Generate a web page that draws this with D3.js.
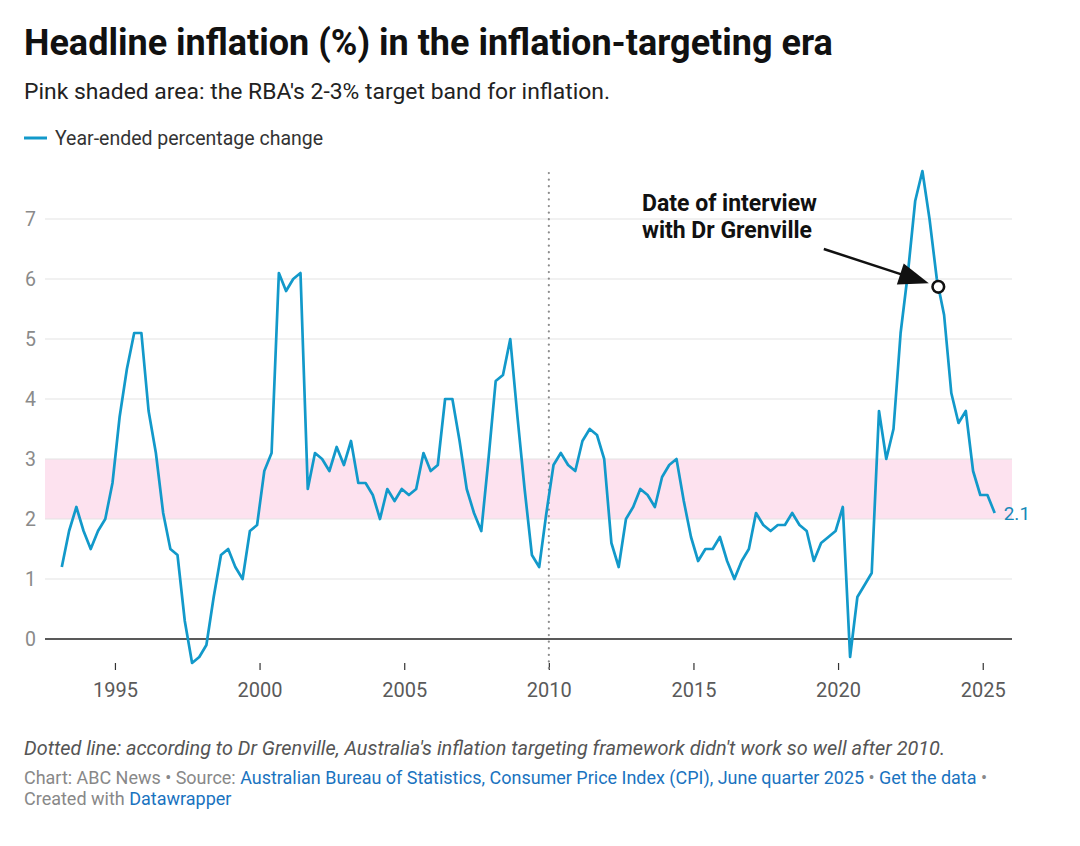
<!DOCTYPE html>
<html>
<head>
<meta charset="utf-8">
<script src="https://cdn.jsdelivr.net/npm/d3@7"></script>
<style>
  html, body { margin: 0; padding: 0; background: #fff; }
  svg { display: block; font-family: Roboto, "Noto Sans", sans-serif; }
</style>
</head>
<body>
<svg id="chart" width="1080" height="846"></svg>
<script>
// ---------- DATA ----------
const periods = [
  "1993-03","1993-06","1993-09","1993-12","1994-03","1994-06","1994-09","1994-12",
  "1995-03","1995-06","1995-09","1995-12","1996-03","1996-06","1996-09","1996-12",
  "1997-03","1997-06","1997-09","1997-12","1998-03","1998-06","1998-09","1998-12",
  "1999-03","1999-06","1999-09","1999-12","2000-03","2000-06","2000-09","2000-12",
  "2001-03","2001-06","2001-09","2001-12","2002-03","2002-06","2002-09","2002-12",
  "2003-03","2003-06","2003-09","2003-12","2004-03","2004-06","2004-09","2004-12",
  "2005-03","2005-06","2005-09","2005-12","2006-03","2006-06","2006-09","2006-12",
  "2007-03","2007-06","2007-09","2007-12","2008-03","2008-06","2008-09","2008-12",
  "2009-03","2009-06","2009-09","2009-12","2010-03","2010-06","2010-09","2010-12",
  "2011-03","2011-06","2011-09","2011-12","2012-03","2012-06","2012-09","2012-12",
  "2013-03","2013-06","2013-09","2013-12","2014-03","2014-06","2014-09","2014-12",
  "2015-03","2015-06","2015-09","2015-12","2016-03","2016-06","2016-09","2016-12",
  "2017-03","2017-06","2017-09","2017-12","2018-03","2018-06","2018-09","2018-12",
  "2019-03","2019-06","2019-09","2019-12","2020-03","2020-06","2020-09","2020-12",
  "2021-03","2021-06","2021-09","2021-12","2022-03","2022-06","2022-09","2022-12",
  "2023-03","2023-06","2023-09","2023-12","2024-03","2024-06","2024-09","2024-12",
  "2025-03","2025-06"
];
const inflation = [
  1.2, 1.8, 2.2, 1.8,   1.5, 1.8, 2.0, 2.6,
  3.7, 4.5, 5.1, 5.1,   3.8, 3.1, 2.1, 1.5,
  1.4, 0.3, -0.4, -0.3, -0.1, 0.7, 1.4, 1.5,
  1.2, 1.0, 1.8, 1.9,   2.8, 3.1, 6.1, 5.8,
  6.0, 6.1, 2.5, 3.1,   3.0, 2.8, 3.2, 2.9,
  3.3, 2.6, 2.6, 2.4,   2.0, 2.5, 2.3, 2.5,
  2.4, 2.5, 3.1, 2.8,   2.9, 4.0, 4.0, 3.3,
  2.5, 2.1, 1.8, 3.0,   4.3, 4.4, 5.0, 3.7,
  2.5, 1.4, 1.2, 2.1,   2.9, 3.1, 2.9, 2.8,
  3.3, 3.5, 3.4, 3.0,   1.6, 1.2, 2.0, 2.2,
  2.5, 2.4, 2.2, 2.7,   2.9, 3.0, 2.3, 1.7,
  1.3, 1.5, 1.5, 1.7,   1.3, 1.0, 1.3, 1.5,
  2.1, 1.9, 1.8, 1.9,   1.9, 2.1, 1.9, 1.8,
  1.3, 1.6, 1.7, 1.8,   2.2, -0.3, 0.7, 0.9,
  1.1, 3.8, 3.0, 3.5,   5.1, 6.1, 7.3, 7.8,
  7.0, 6.0, 5.4, 4.1,   3.6, 3.8, 2.8, 2.4,
  2.4, 2.1
];
const yTicks = [0, 1, 2, 3, 4, 5, 6, 7];
const xTickYears = [1995, 2000, 2005, 2010, 2015, 2020, 2025];
const targetBand = [2, 3];
const dividerDate = "2010-01-01";
const interviewDate = "2023-06-20";
const interviewValue = 5.87;
const annotationLines = ["Date of interview", "with Dr Grenville"];
const seriesName = "Year-ended percentage change";

// ---------- SETUP ----------
const svg = d3.select("#chart");
const W = 1080, H = 846;
svg.append("rect").attr("width", W).attr("height", H).attr("fill", "#fff");

const parseMonth = d3.timeParse("%Y-%m");
const data = periods.map((p, i) => ({ date: parseMonth(p), value: inflation[i] }));

const plotLeft = 45, plotRight = 1012;
const x = d3.scaleTime()
  .domain(d3.extent(data, d => d.date))
  .range([61.8, 994.7]);
const y = d3.scaleLinear()
  .domain([d3.min(inflation), d3.max(inflation)])
  .range([663, 171]);

const lineColor = "#1299ca";

// fit helper: nudge rendered width to the reference width
function fit(sel, target) {
  const w = sel.node().getComputedTextLength();
  if (Math.abs(w - target) > 2) {
    sel.attr("textLength", target).attr("lengthAdjust", "spacingAndGlyphs");
  }
  return sel;
}

// ---------- TITLE / SUBTITLE / LEGEND ----------
fit(svg.append("text")
  .attr("x", 24).attr("y", 55)
  .attr("font-size", 36).attr("font-weight", 700).attr("fill", "#111")
  .text("Headline inflation (%) in the inflation-targeting era"), 809);

fit(svg.append("text")
  .attr("x", 24).attr("y", 99)
  .attr("font-size", 22.5).attr("fill", "#222")
  .text("Pink shaded area: the RBA's 2-3% target band for inflation."), 586);

svg.append("line")
  .attr("x1", 24).attr("x2", 47).attr("y1", 138).attr("y2", 138)
  .attr("stroke", lineColor).attr("stroke-width", 3);
fit(svg.append("text")
  .attr("x", 55).attr("y", 144.5)
  .attr("font-size", 19.5).attr("fill", "#333")
  .text(seriesName), 270);

// ---------- PLOT ----------
const g = svg.append("g");

// target band
g.append("rect")
  .attr("x", plotLeft).attr("width", plotRight - plotLeft)
  .attr("y", y(targetBand[1])).attr("height", y(targetBand[0]) - y(targetBand[1]))
  .attr("fill", "#fde2ef");

// gridlines
g.selectAll("line.grid").data(yTicks.filter(d => d !== 0)).join("line")
  .attr("class", "grid")
  .attr("x1", plotLeft).attr("x2", plotRight)
  .attr("y1", d => y(d)).attr("y2", d => y(d))
  .attr("stroke", "#e3e3e3").attr("stroke-width", 1);

// y labels
const yAxis = d3.axisLeft(y).tickValues(yTicks).tickSize(0).tickPadding(0).tickFormat(d3.format("d"));
const yg = g.append("g").attr("transform", "translate(36,0)").call(yAxis);
yg.select(".domain").remove();
yg.selectAll("text").attr("font-size", 19.5).attr("fill", "#8a8a8a")
  .attr("font-family", "Roboto, sans-serif").attr("dy", "0.35em");

// x axis ticks and labels
const xAxis = d3.axisBottom(x)
  .tickValues(xTickYears.map(yr => new Date(yr, 0, 1)))
  .tickSize(7).tickPadding(13).tickFormat(d3.timeFormat("%Y"));
const xg = g.append("g").attr("transform", "translate(0,663)").call(xAxis);
xg.select(".domain").remove();
xg.selectAll(".tick line").attr("stroke", "#333").attr("stroke-width", 1.2);
xg.selectAll("text").attr("font-size", 20).attr("fill", "#5a5a5a")
  .attr("font-family", "Roboto, sans-serif");

// divider dotted line
g.append("line")
  .attr("x1", x(new Date(dividerDate))).attr("x2", x(new Date(dividerDate)))
  .attr("y1", 173).attr("y2", 673)
  .attr("stroke", "#8c8c8c").attr("stroke-width", 2.2)
  .attr("stroke-linecap", "round").attr("stroke-dasharray", "0.1,6.5");

// zero line
g.append("line")
  .attr("x1", plotLeft).attr("x2", plotRight)
  .attr("y1", y(0)).attr("y2", y(0))
  .attr("stroke", "#222").attr("stroke-width", 1.4);

// series line
const line = d3.line().x(d => x(d.date)).y(d => y(d.value));
g.append("path").datum(data)
  .attr("d", line)
  .attr("fill", "none").attr("stroke", lineColor)
  .attr("stroke-width", 2.7).attr("stroke-linejoin", "round");

// end label
const last = data[data.length - 1];
g.append("text")
  .attr("x", x(last.date) + 9).attr("y", y(last.value)).attr("dy", "0.35em")
  .attr("font-size", 19).attr("fill", "#1589b8")
  .text(d3.format(".1f")(last.value));

// ---------- ANNOTATION ----------
const cx = x(new Date(interviewDate)), cy = y(interviewValue);
const tip = [cx - 9.5, cy - 3.5];
const start = [tip[0] - 105, tip[1] - 34.3];
const dx = tip[0] - start[0], dy = tip[1] - start[1];
const len = Math.hypot(dx, dy), ux = dx / len, uy = dy / len;
const headLen = 30, headHalf = 11;
const base = [tip[0] - ux * headLen, tip[1] - uy * headLen];
g.append("line")
  .attr("x1", start[0]).attr("y1", start[1])
  .attr("x2", base[0] + ux * 2).attr("y2", base[1] + uy * 2)
  .attr("stroke", "#111").attr("stroke-width", 2.5);
g.append("path")
  .attr("d", `M${tip[0]},${tip[1]} L${base[0] - uy * headHalf},${base[1] + ux * headHalf} L${base[0] + uy * headHalf},${base[1] - ux * headHalf} Z`)
  .attr("fill", "#111");
g.append("circle")
  .attr("cx", cx).attr("cy", cy).attr("r", 5.8)
  .attr("fill", "#fff").attr("stroke", "#111").attr("stroke-width", 2.6);

const annWidths = [174, 169];
annotationLines.forEach((t, i) => {
  fit(g.append("text")
    .attr("x", 642).attr("y", 211 + i * 27)
    .attr("font-size", 23).attr("font-weight", 700).attr("fill", "#111")
    .text(t), annWidths[i]);
});

// ---------- FOOTER ----------
fit(svg.append("text")
  .attr("x", 24).attr("y", 755)
  .attr("font-size", 20).attr("font-style", "italic").attr("fill", "#555")
  .text("Dotted line: according to Dr Grenville, Australia's inflation targeting framework didn't work so well after 2010."), 921);

const f1 = svg.append("text").attr("x", 24).attr("y", 784).attr("font-size", 18);
f1.append("tspan").attr("fill", "#888").text("Chart: ABC News • Source: ");
f1.append("tspan").attr("fill", "#1a73bf").text("Australian Bureau of Statistics, Consumer Price Index (CPI), June quarter 2025");
f1.append("tspan").attr("fill", "#888").text(" • ");
f1.append("tspan").attr("fill", "#1a73bf").text("Get the data");
f1.append("tspan").attr("fill", "#888").text(" •");
fit(f1, 963);

const f2 = svg.append("text").attr("x", 24).attr("y", 805).attr("font-size", 18);
f2.append("tspan").attr("fill", "#888").text("Created with ");
f2.append("tspan").attr("fill", "#1a73bf").text("Datawrapper");
fit(f2, 208);
</script>
</body>
</html>
